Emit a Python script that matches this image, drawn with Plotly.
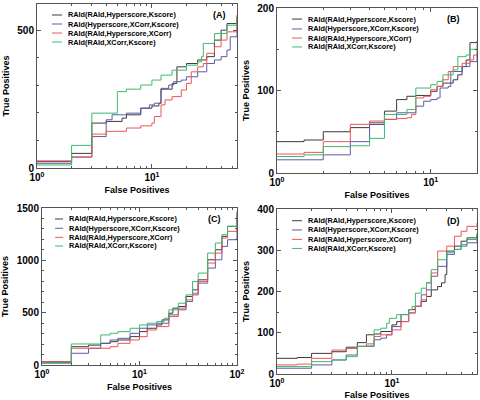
import math
import plotly.graph_objects as go

# ---------------- data ----------------
series_names = ["RAId(RAId,Hyperscore,Kscore)", "RAId(Hyperscore,XCorr,Kscore)",
                "RAId(RAId,Hyperscore,XCorr)", "RAId(RAId,XCorr,Kscore)"]
panel_labels = ["(A)", "(B)", "(C)", "(D)"]
x_title = "False Positives"
y_title = "True Positives"

# Panel A
A_black_x = [1, 2, 3, 4, 5.5, 6, 8, 10, 11.5, 12, 15, 16.5, 20, 25, 30, 35, 40, 45, 55]
A_black_y = [23, 53, 163, 169, 181, 193, 217, 225, 235, 286, 307, 367, 379, 392, 404, 464, 500, 524, 554]
A_blue_x = [1, 2, 3, 4, 4.5, 6, 8, 9.5, 10.5, 12, 14, 15.5, 18, 20, 25, 30, 35, 40, 45, 48, 55]
A_blue_y = [17, 40, 114, 175, 193, 199, 217, 229, 235, 289, 301, 313, 319, 331, 349, 379, 392, 404, 428, 476, 542]
A_red_x = [1, 2, 3, 4, 6, 8, 10, 10.5, 12, 13, 15, 18, 20, 22, 25, 28, 30, 35, 40, 45, 55]
A_red_y = [26, 39, 123, 133, 145, 153, 163, 187, 229, 247, 259, 283, 307, 349, 367, 379, 416, 440, 464, 494, 548]
A_green_x = [1, 2, 3, 5, 6, 8, 10, 12, 15, 20, 25, 27, 28, 35, 45, 55]
A_green_y = [11, 82, 199, 277, 286, 301, 319, 337, 355, 373, 385, 404, 452, 488, 518, 542]

# Panel B
B_black_x = [1, 1.5, 2, 3, 4, 5, 6, 7, 8, 10, 11, 12, 14, 15, 16, 17, 18, 20]
B_black_y = [38, 40, 50, 55, 59, 75, 89, 93, 94, 99, 105, 109, 113, 119, 129, 137, 158, 160]
B_blue_x = [1, 2, 3, 4, 5, 6, 8, 9, 10, 11, 11.5, 13, 13.5, 16, 18, 20]
B_blue_y = [16, 22, 38, 61, 65, 73, 81, 87, 89, 91, 103, 105, 123, 129, 135, 143]
B_red_x = [1, 1.5, 2, 3, 4, 5, 6, 7, 7.5, 8, 9, 10, 11, 12, 13, 14, 16, 18, 19, 20]
B_red_y = [23, 25, 38, 59, 63, 65, 66, 67, 71, 91, 93, 101, 105, 113, 123, 129, 133, 137, 143, 150]
B_green_x = [1, 1.5, 2, 3, 4, 5, 6, 7, 8, 10, 11, 12, 14, 15, 17, 18, 20]
B_green_y = [20, 22, 32, 33, 42, 71, 71, 77, 103, 107, 111, 119, 125, 141, 143, 150, 156]

# Panel C
C_black_x = [1, 2, 3, 4, 5, 6, 8, 10, 12, 15, 17, 20, 22, 25, 30, 35, 40, 50, 60, 70, 80, 100]
C_black_y = [32, 175, 190, 207, 223, 239, 271, 319, 351, 383, 431, 495, 543, 559, 654, 718, 814, 1005, 1101, 1229, 1325, 1452]
C_blue_x = [1, 2, 3, 4, 5, 6, 8, 10, 12, 15, 20, 25, 30, 35, 40, 50, 60, 70, 80, 100]
C_blue_y = [22, 112, 160, 207, 239, 255, 303, 351, 383, 399, 479, 527, 606, 670, 782, 926, 1005, 1133, 1197, 1340]
C_red_x = [1, 2, 5, 6, 8, 10, 12, 15, 20, 25, 30, 35, 40, 50, 60, 70, 80, 100]
C_red_y = [32, 160, 175, 207, 239, 271, 335, 367, 463, 543, 622, 686, 798, 974, 1069, 1213, 1277, 1468]
C_green_x = [1, 2, 4, 5, 6, 8, 10, 12, 15, 18, 20, 25, 30, 35, 40, 50, 60, 70, 80, 100]
C_green_y = [16, 201, 287, 303, 319, 351, 383, 399, 415, 447, 527, 590, 670, 798, 878, 1069, 1165, 1245, 1325, 1420]

# Panel D
D_black_x = [1, 1.5, 2, 3, 4, 5, 6, 7, 8, 10, 11, 12, 14, 16, 18, 20, 22, 25, 27, 29, 30, 35, 40, 45, 55]
D_black_y = [38, 40, 50, 54, 65, 76, 95, 97, 103, 119, 127, 144, 156, 164, 176, 188, 204, 212, 221, 241, 298, 310, 322, 330, 338]
D_blue_x = [1, 2, 3, 4, 5, 7, 8, 9, 10, 12, 14, 16, 18, 20, 22, 25, 30, 35, 40, 45, 55]
D_blue_y = [14, 22, 34, 46, 67, 83, 87, 95, 115, 127, 148, 164, 192, 204, 237, 261, 290, 302, 310, 318, 334]
D_red_x = [1, 1.5, 2, 3, 4, 5, 6, 7, 8, 10, 12, 14, 16, 18, 20, 22, 25, 30, 35, 40, 45, 55]
D_red_y = [22, 24, 38, 58, 62, 67, 73, 91, 95, 107, 127, 148, 164, 180, 221, 245, 298, 310, 334, 346, 358, 366]
D_green_x = [1, 2, 3, 4, 5, 6, 7, 8, 9, 9.5, 11, 14, 15, 16, 18, 20, 22, 25, 30, 35, 40, 45, 55]
D_green_y = [18, 30, 34, 42, 67, 68, 107, 111, 123, 135, 144, 156, 164, 196, 208, 221, 253, 277, 294, 302, 314, 326, 342]

panels = [
    [(A_black_x, A_black_y), (A_blue_x, A_blue_y), (A_red_x, A_red_y), (A_green_x, A_green_y)],
    [(B_black_x, B_black_y), (B_blue_x, B_blue_y), (B_red_x, B_red_y), (B_green_x, B_green_y)],
    [(C_black_x, C_black_y), (C_blue_x, C_blue_y), (C_red_x, C_red_y), (C_green_x, C_green_y)],
    [(D_black_x, D_black_y), (D_blue_x, D_blue_y), (D_red_x, D_red_y), (D_green_x, D_green_y)],
]
x_max = [55, 20, 100, 55]
y_max = [595, 200, 1500, 400]
y_major = [500, 100, 500, 100]
y_minor = [100, 50, 100, 50]
x_tickvals = [[1, 10], [1, 10], [1, 10, 100], [1, 10]]
x_ticktext = [["10<sup>0</sup>", "10<sup>1</sup>"], ["10<sup>0</sup>", "10<sup>1</sup>"],
              ["10<sup>0</sup>", "10<sup>1</sup>", "10<sup>2</sup>"], ["10<sup>0</sup>", "10<sup>1</sup>"]]

# ---------------- layout ----------------
colors = ["#3a3a3a", "#5b5baa", "#ee5555", "#3cba6e"]
FONT = "Liberation Sans, Arial, sans-serif"
W, H = 480, 400
# pixel boxes: left, right, top, bottom
boxes = [(37, 237, 4, 168), (277, 477, 8, 173), (42, 237, 208, 365), (277, 477, 209, 374)]
leg_rows = [[0.933, 0.878, 0.823, 0.768], [0.933, 0.873, 0.818, 0.764],
            [0.93, 0.871, 0.813, 0.758], [0.929, 0.873, 0.816, 0.761]]
leg_x = [(0.075, 0.125, 0.145), (0.075, 0.125, 0.145), (0.067, 0.108, 0.128), (0.075, 0.125, 0.145)]
label_x = [0.955, 0.925, 0.93, 0.925]

fig = go.Figure()
shapes, annotations = [], []
for i, series in enumerate(panels):
    k = "" if i == 0 else str(i + 1)
    xa, ya = "x" + k, "y" + k
    for j, (xs, ys) in enumerate(series):
        fig.add_trace(go.Scatter(x=xs, y=ys, mode="lines", line=dict(color=colors[j], width=1, shape="hv"),
                                 name=series_names[j], showlegend=False, xaxis=xa, yaxis=ya, hoverinfo="skip"))
    l, r, t, b = boxes[i]
    common = dict(showline=True, linecolor="#555", linewidth=1, mirror="ticks", ticks="inside",
                  tickcolor="#555", showgrid=False, zeroline=False, automargin=False,
                  tickfont=dict(family=FONT, size=10, color="black", weight="bold"))
    fig.layout["xaxis" + k] = dict(common, type="log", domain=[l / W, r / W], anchor=ya,
                                   range=[0, math.log10(x_max[i])], ticklen=4,
                                   tickmode="array", tickvals=x_tickvals[i], ticktext=x_ticktext[i],
                                   minor=dict(ticks="inside", ticklen=2, tickcolor="#555", dtick="D1"),
                                   title=dict(text="<b>%s</b>" % x_title, font=dict(family=FONT, size=9, color="black"), standoff=4))
    fig.layout["yaxis" + k] = dict(common, domain=[1 - b / H, 1 - t / H], anchor=xa,
                                   range=[0, y_max[i]], dtick=y_major[i], ticklen=4,
                                   minor=dict(ticks="inside", ticklen=2, tickcolor="#555", dtick=y_minor[i]),
                                   title=dict(text="<b>%s</b>" % y_title, font=dict(family=FONT, size=9, color="black"), standoff=6))
    x0, x1, xt = leg_x[i]
    for j in range(4):
        yy = leg_rows[i][j]
        shapes.append(dict(type="line", xref=xa + " domain", yref=ya + " domain", x0=x0, x1=x1, y0=yy, y1=yy,
                           line=dict(color=colors[j], width=1)))
        annotations.append(dict(xref=xa + " domain", yref=ya + " domain", x=xt, y=yy, text="<b>%s</b>" % series_names[j],
                                showarrow=False, xanchor="left", yanchor="middle",
                                font=dict(family=FONT, size=7.3, color="black")))
    annotations.append(dict(xref=xa + " domain", yref=ya + " domain", x=label_x[i], y=leg_rows[i][0], text="<b>%s</b>" % panel_labels[i],
                            showarrow=False, xanchor="right", yanchor="middle",
                            font=dict(family=FONT, size=9, color="black")))

fig.update_layout(width=W, height=H, margin=dict(l=0, r=0, t=0, b=0), paper_bgcolor="white",
                  plot_bgcolor="white", shapes=shapes, annotations=annotations,
                  font=dict(family=FONT, color="black"))
fig.write_html("out.html", config={"displayModeBar": False},
               post_script="document.body.style.margin='0';document.body.style.overflow='hidden';")
